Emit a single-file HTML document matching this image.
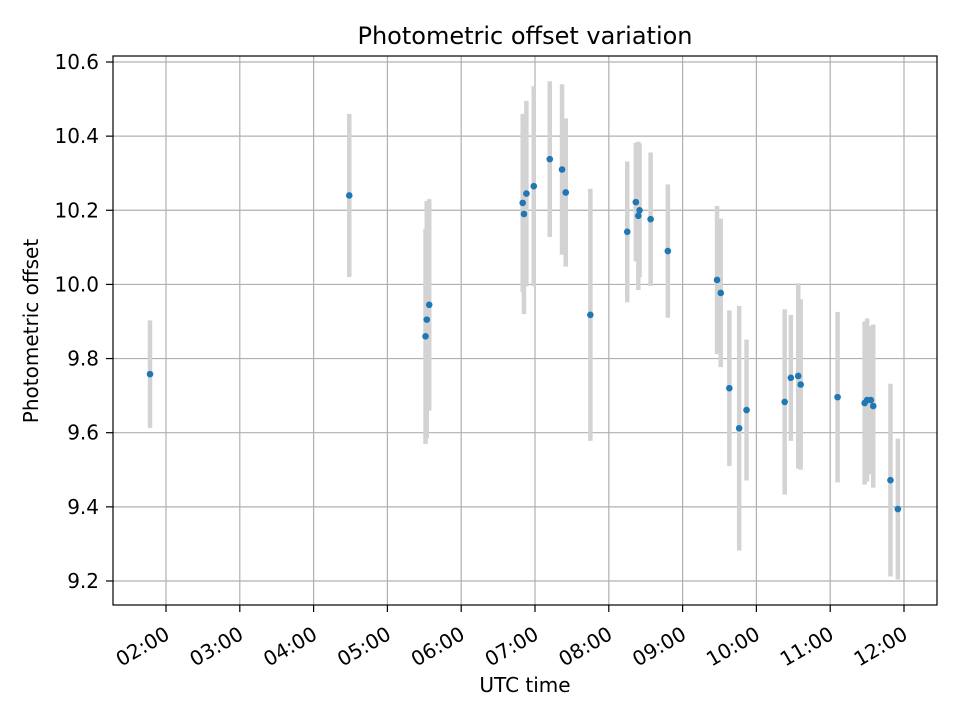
<!DOCTYPE html>
<html><head><meta charset="utf-8"><style>
body{margin:0;background:#fff;}
svg{display:block;font-family:"DejaVu Sans","Liberation Sans",sans-serif;}
</style></head>
<body>
<svg id="chart" width="960" height="720">
<text x="525" y="44" font-size="24" text-anchor="middle">Photometric offset variation</text>
<g id="grid"></g>
<g id="bars"></g>
<g id="pts"></g>
<rect x="113" y="56" width="824" height="549" fill="none" stroke="#000" stroke-width="1.2"/>
<g id="axes"></g>
<text x="525" y="692" font-size="20" text-anchor="middle">UTC time</text>
<text transform="translate(38,331) rotate(-90)" font-size="20" text-anchor="middle">Photometric offset</text>
</svg>
<script>
const times = ["01:47","04:29","05:31","05:32","05:34","06:50","06:51","06:53","06:59","07:12","07:22","07:25","07:45","08:15","08:22","08:24","08:25","08:34","08:48","09:28","09:31","09:38","09:46","09:52","10:23","10:28","10:34","10:36","11:06","11:28","11:30","11:33","11:35","11:49","11:55"];
const values = [9.758,10.24,9.86,9.905,9.945,10.22,10.19,10.245,10.265,10.338,10.31,10.248,9.918,10.142,10.222,10.185,10.2,10.176,10.09,10.012,9.977,9.72,9.612,9.661,9.683,9.748,9.753,9.73,9.696,9.68,9.688,9.688,9.672,9.472,9.394];
const errors = [0.145,0.22,0.29,0.32,0.285,0.24,0.27,0.25,0.27,0.21,0.23,0.2,0.34,0.19,0.16,0.2,0.18,0.18,0.18,0.2,0.2,0.21,0.33,0.19,0.25,0.17,0.25,0.23,0.23,0.22,0.22,0.2,0.22,0.26,0.19];
const yTicks = [9.2,9.4,9.6,9.8,10.0,10.2,10.4,10.6];
const xTickHours = [2,3,4,5,6,7,8,9,10,11,12];
const NS="http://www.w3.org/2000/svg";
function xs(h){return 166+(h-2)*73.8;}
function ys(v){return 62+(10.6-v)*370.7;}
function hrs(t){const p=t.split(":");return +p[0]+(+p[1])/60;}
function mk(tag,attrs,parent){const e=document.createElementNS(NS,tag);for(const k in attrs)e.setAttribute(k,attrs[k]);parent.appendChild(e);return e;}
const grid=document.getElementById('grid'),axes=document.getElementById('axes'),bars=document.getElementById('bars'),pts=document.getElementById('pts');
yTicks.forEach(v=>{const y=ys(v);
 const g=mk('line',{x1:113,x2:937,y1:y,y2:y,stroke:'#b0b0b0','stroke-width':1.2},grid);
 
 
 const t=mk('line',{x1:106,x2:113,y1:y,y2:y,stroke:'#000','stroke-width':1.2},axes);
 
 
 const l=mk('text',{x:99,y:y+7,'font-size':20,'text-anchor':'end'},axes);
 l.textContent=v.toFixed(1);
 
 
});
xTickHours.forEach(h=>{const x=xs(h);
 const g=mk('line',{x1:x,x2:x,y1:56,y2:605,stroke:'#b0b0b0','stroke-width':1.2},grid);
 
 
 const t=mk('line',{x1:x,x2:x,y1:605,y2:612,stroke:'#000','stroke-width':1.2},axes);
 
 
 const l=mk('text',{'font-size':20,'text-anchor':'end',transform:`translate(${x+5},${638}) rotate(-30)`},axes);
 l.textContent=String(h).padStart(2,'0')+":00";
 
 
});
times.forEach((t,i)=>{const x=xs(hrs(t));
 const b=mk('line',{x1:x,x2:x,y1:ys(values[i]+errors[i]),y2:ys(values[i]-errors[i]),stroke:'#d3d3d3','stroke-width':4.5},bars);
 
 
 const c=mk('circle',{cx:x,cy:ys(values[i]),r:3.3,fill:'#1f77b4'},pts);
 
 
});
</script>
</body></html>
